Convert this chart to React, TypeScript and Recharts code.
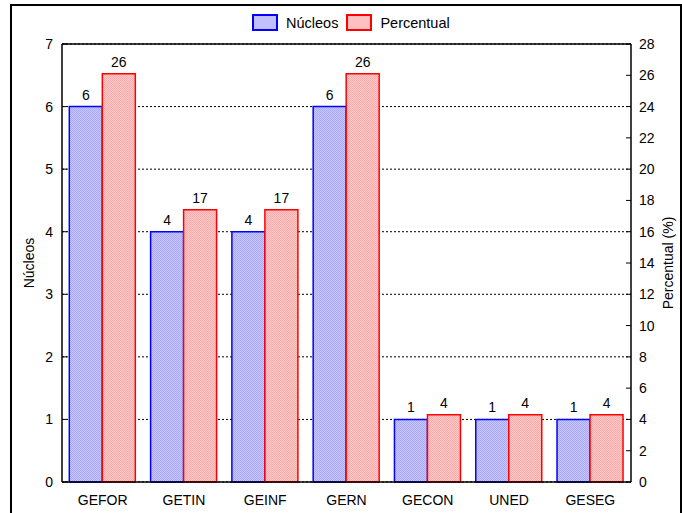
import React from 'react';
import {
  BarChart, Bar, XAxis, YAxis, CartesianGrid, ReferenceLine, LabelList,
} from 'recharts';

const categories = ['GEFOR', 'GETIN', 'GEINF', 'GERN', 'GECON', 'UNED', 'GESEG'];
const nucleos = [6, 4, 4, 6, 1, 1, 1];
const percentual = [26.1, 17.4, 17.4, 26.1, 4.3, 4.3, 4.3];
const leftTicks = [0, 1, 2, 3, 4, 5, 6, 7];
const rightTicks = [0, 2, 4, 6, 8, 10, 12, 14, 16, 18, 20, 22, 24, 26, 28];

const data = categories.map((c, i) => ({ name: c, nucleos: nucleos[i], percentual: percentual[i] }));

const FONT = '"Liberation Sans", Arial, sans-serif';
const tickStyle = { fontSize: 14, fill: '#000', fontFamily: FONT };

function LegendBox({ fill, stroke, label }: { fill: string; stroke: string; label: string }) {
  return (
    <div style={{ display: 'flex', alignItems: 'center', marginRight: 8 }}>
      <div style={{ width: 22, height: 13, background: fill, border: `2px solid ${stroke}`, marginRight: 8 }} />
      <span style={{ fontSize: 14.5, fontFamily: FONT, color: '#000' }}>{label}</span>
    </div>
  );
}

export default function App() {
  return (
    <div style={{ position: 'absolute', left: 0, top: 0, width: 682, height: 513, background: '#fff', overflow: 'hidden' }}>
      {/* outer frame */}
      <div style={{ position: 'absolute', left: 10, top: 4, width: 668, height: 560, borderLeft: '2px solid #000', borderTop: '2px solid #000', borderRight: '2px solid #000' }} />

      {/* legend */}
      <div style={{ position: 'absolute', left: 252, top: 14, display: 'flex' }}>
        <LegendBox fill="#c0c0ff" stroke="#0000ff" label="Núcleos" />
        <LegendBox fill="#ffc0c0" stroke="#ff0000" label="Percentual" />
      </div>

      <div style={{ position: 'absolute', left: 0, top: 0 }}>
        <BarChart
          width={682}
          height={513}
          data={data}
          margin={{ top: 44, right: 11, left: 22, bottom: 6 }}
          barCategoryGap="9%"
          barGap={0}
        >
          <defs>
            <pattern id="patBlue" width="2" height="2" patternUnits="userSpaceOnUse">
              <rect width="2" height="2" fill="#c8c8ff" />
              <rect width="1" height="1" fill="#a8a8ff" />
              <rect x="1" y="1" width="1" height="1" fill="#a8a8ff" />
            </pattern>
            <pattern id="patRed" width="2" height="2" patternUnits="userSpaceOnUse">
              <rect width="2" height="2" fill="#ffcaca" />
              <rect width="1" height="1" fill="#ffa8a8" />
              <rect x="1" y="1" width="1" height="1" fill="#ffa8a8" />
            </pattern>
          </defs>
          <CartesianGrid yAxisId="left" vertical={false} stroke="#000" strokeDasharray="2 2" />
          <XAxis
            dataKey="name"
            tickLine={false}
            tickSize={0}
            tickMargin={13}
            height={25}
            axisLine={{ stroke: '#000', strokeWidth: 1.5 }}
            tick={tickStyle}
          />
          <YAxis
            yAxisId="left"
            width={40}
            domain={[0, 7]}
            ticks={leftTicks}
            interval={0}
            tickSize={-5}
            tickMargin={14}
            tickLine={{ stroke: '#000' }}
            axisLine={{ stroke: '#000', strokeWidth: 1.5 }}
            tick={tickStyle}
            label={{
              content: () => (
                <text x={29} y={263} transform="rotate(-90 29 263)" textAnchor="middle" dominantBaseline="central" fontSize={14} fontFamily={FONT} fill="#000">
                  Núcleos
                </text>
              ),
            }}
          />
          <YAxis
            yAxisId="right"
            orientation="right"
            width={40}
            domain={[0, 28]}
            ticks={rightTicks}
            interval={0}
            tickSize={-5}
            tickMargin={13}
            tickLine={{ stroke: '#000' }}
            axisLine={{ stroke: '#000', strokeWidth: 1.5 }}
            tick={tickStyle}
            label={{
              content: () => (
                <text x={668} y={263} transform="rotate(-90 668 263)" textAnchor="middle" dominantBaseline="central" fontSize={14} fontFamily={FONT} fill="#000">
                  Percentual (%)
                </text>
              ),
            }}
          />
          <ReferenceLine yAxisId="left" y={7} stroke="#000" strokeWidth={1.5} />
          <Bar yAxisId="left" dataKey="nucleos" fill="url(#patBlue)" stroke="#0000ff" strokeWidth={1.5} isAnimationActive={false}>
            <LabelList dataKey="nucleos" position="top" offset={7} style={{ fontSize: 14, fill: '#000', fontFamily: FONT }} />
          </Bar>
          <Bar yAxisId="right" dataKey="percentual" fill="url(#patRed)" stroke="#ff0000" strokeWidth={1.5} isAnimationActive={false}>
            <LabelList
              dataKey="percentual"
              position="top"
              offset={7}
              formatter={(v: any) => Math.round(Number(v))}
              style={{ fontSize: 14, fill: '#000', fontFamily: FONT }}
            />
          </Bar>
        </BarChart>
      </div>
    </div>
  );
}
